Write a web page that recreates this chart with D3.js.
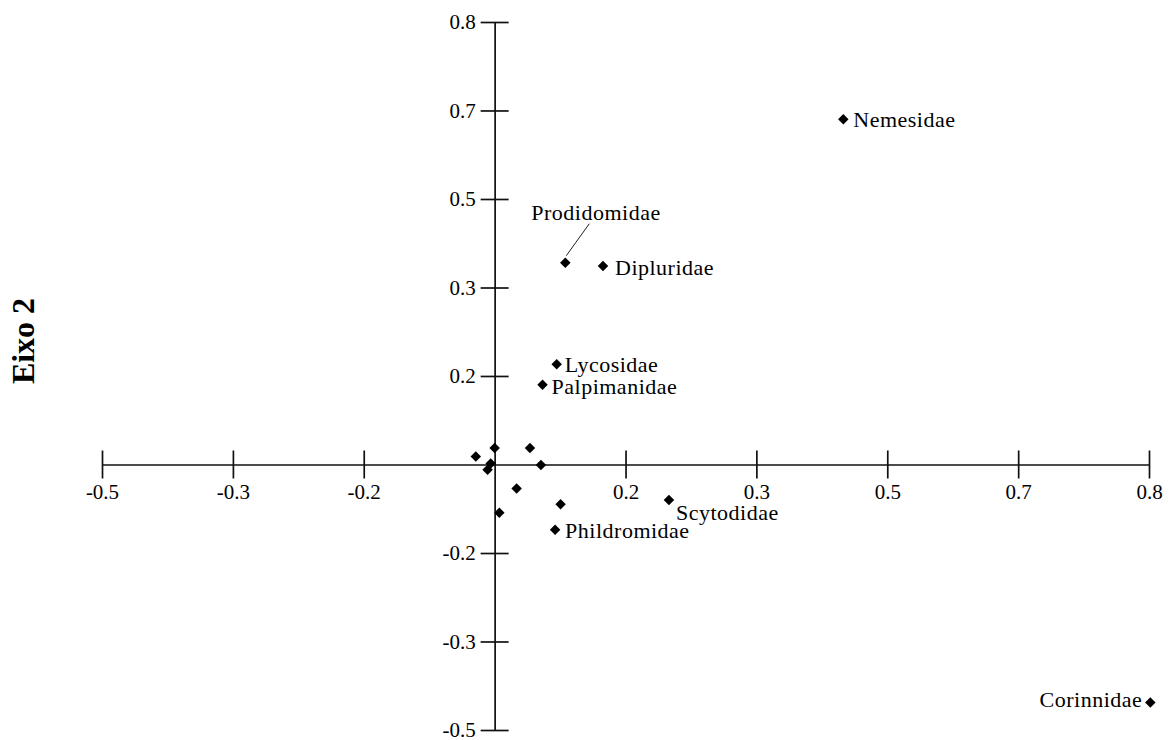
<!DOCTYPE html>
<html>
  <head>
    <meta charset="utf-8">
    <title>Eixo 2</title>
  </head>
  <style>
    body{
      margin:0;
      padding:0;
      background-color:#fff;
    }
    svg text{
      font-family:"Liberation Serif","Times New Roman",serif;
      fill:#000;
    }
    .axis path, .axis .tick line{
      stroke:#111;
      stroke-width:1.7;
    }
    .axis text{
      font-size:21px;
    }
    .label{
      font-size:22px;
      letter-spacing:0.5px;
    }
  </style>
  <script src="https://d3js.org/d3.v7.min.js"></script>
  <body>
    <script>
    // families (empty name = unlabeled point)
    var families = ["Nemesidae", "Prodidomidae", "Dipluridae", "Lycosidae", "Palpimanidae",
                    "Scytodidae", "Phildromidae", "Corinnidae",
                    "", "", "", "", "", "", "", "", ""]
    // Eixo 1 scores
    var eixo1 = [0.444, 0.090, 0.138, 0.079, 0.061,
                 0.222, 0.077, 0.835,
                 -0.024, 0.000, 0.045, 0.059, -0.005, -0.009, 0.028, 0.084, 0.006]
    // Eixo 2 scores
    var eixo2 = [0.650, 0.380, 0.374, 0.189, 0.150,
                 -0.067, -0.123, -0.448,
                 0.015, 0.031, 0.031, -0.001, 0.002, -0.010, -0.045, -0.075, -0.091]

    var tickValues = [-0.5, -0.3333, -0.1667, 0.1667, 0.3333, 0.5, 0.6667, 0.8333]
    var xTickLabels = ["-0.5", "-0.3", "-0.2", "0.2", "0.3", "0.5", "0.7", "0.8"]
    var yTickLabels = ["-0.5", "-0.3", "-0.2", "0.2", "0.3", "0.5", "0.7", "0.8"]

    var width = 1171
    var height = 740

    var svg = d3.select("body")
                .append("svg")
                .attr("width", width)
                .attr("height", height)

    var xScale = d3.scaleLinear()
                   .domain([-0.5, 0.8333])
                   .range([102, 1149])

    var yScale = d3.scaleLinear()
                   .domain([-0.5, 0.8333])
                   .range([730, 22])

    // x axis through y = 0, ticks crossing the line
    var xAxis = d3.axisBottom(xScale)
                  .tickValues(tickValues)
                  .tickFormat(function(d, i){ return xTickLabels[i] })
                  .tickSize(14)
                  .tickSizeOuter(0)

    var gx = svg.append("g")
       .attr("class", "axis")
       .attr("transform", "translate(0," + yScale(0) + ")")
       .call(xAxis)
    gx.selectAll(".tick line").attr("y1", -14).attr("y2", 14)
    gx.selectAll(".tick text").attr("y", 20)

    // y axis through x = 0
    var yAxis = d3.axisLeft(yScale)
                  .tickValues(tickValues)
                  .tickFormat(function(d, i){ return yTickLabels[i] })
                  .tickSize(14)
                  .tickSizeOuter(0)

    var gy = svg.append("g")
       .attr("class", "axis")
       .attr("transform", "translate(" + xScale(0) + ",0)")
       .call(yAxis)
    gy.selectAll(".tick line").attr("x1", -14).attr("x2", 14)
    gy.selectAll(".tick text").attr("x", -19)
    svg.selectAll(".axis").attr("font-family", null).attr("font-size", null)

    // axis title
    svg.append("text")
       .attr("transform", "translate(34,341) rotate(-90)")
       .attr("text-anchor", "middle")
       .attr("font-size", "32px")
       .attr("font-weight", "bold")
       .text("Eixo 2")

    // rotated-square marker
    var diamond = {
      draw: function(ctx, size){
        var r = Math.sqrt(size) / 2
        ctx.moveTo(0, -r)
        ctx.lineTo(r, 0)
        ctx.lineTo(0, r)
        ctx.lineTo(-r, 0)
        ctx.closePath()
      }
    }

    var points = families.map(function(f, i){
      return {name: f, x: eixo1[i], y: eixo2[i]}
    })

    svg.append("g").selectAll("path")
       .data(points)
       .enter()
       .append("path")
       .attr("d", d3.symbol().type(diamond).size(110))
       .attr("transform", function(d){
         return "translate(" + xScale(d.x) + "," + yScale(d.y) + ")"
       })
       .attr("fill", "#000")

    // label placement: dx, dy, anchor
    var labelPos = {
      "Nemesidae":    [10, 8, "start"],
      "Prodidomidae": [-34, -43, "start"],
      "Dipluridae":   [12, 9, "start"],
      "Lycosidae":    [8, 8, "start"],
      "Palpimanidae": [9, 9, "start"],
      "Scytodidae":   [7, 20, "start"],
      "Phildromidae": [10, 8, "start"],
      "Corinnidae":   [-8, 5, "end"]
    }

    var labeled = points.filter(function(d){ return d.name != "" })

    svg.append("g").selectAll("text")
       .data(labeled)
       .enter()
       .append("text")
       .attr("class", "label")
       .attr("x", function(d){ return xScale(d.x) + labelPos[d.name][0] })
       .attr("y", function(d){ return yScale(d.y) + labelPos[d.name][1] })
       .attr("text-anchor", function(d){ return labelPos[d.name][2] })
       .text(function(d){ return d.name })

    // leader line for Prodidomidae
    var prod = points[1]
    svg.append("line")
       .attr("x1", xScale(prod.x) + 1)
       .attr("y1", yScale(prod.y) - 7)
       .attr("x2", xScale(prod.x) + 24)
       .attr("y2", yScale(prod.y) - 39)
       .attr("stroke", "#222")
       .attr("stroke-width", 1)
    </script>
  </body>
</html>
